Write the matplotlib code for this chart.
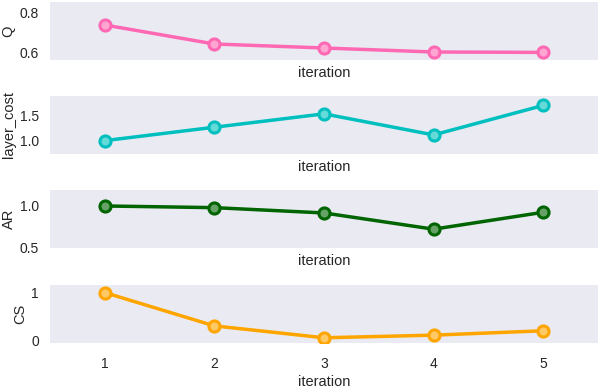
import matplotlib
matplotlib.use("Agg")
import matplotlib.pyplot as plt
import matplotlib.colors as mcolors

iterations = ["1", "2", "3", "4", "5"]
q_values = [0.735, 0.640, 0.620, 0.600, 0.598]
layer_cost_values = [1.00, 1.27, 1.54, 1.115, 1.71]
ar_values = [1.00, 0.98, 0.917, 0.724, 0.925]
cs_values = [1.00, 0.30, 0.05, 0.105, 0.197]

panels = [
    ("Q", q_values, "#FF69B4", (0.56, 0.85), [0.6, 0.8], ["0.6", "0.8"]),
    ("layer_cost", layer_cost_values, "#00BFBF", (0.73, 1.90), [1.0, 1.5], ["1.0", "1.5"]),
    ("AR", ar_values, "#006400", (0.52, 1.19), [0.5, 1.0], ["0.5", "1.0"]),
    ("CS", cs_values, "#FFA500", (-0.06, 1.16), [0, 1], ["0", "1"]),
]

plt.rcParams['font.family'] = ['Liberation Sans', 'DejaVu Sans']
W, H = 598, 388
fig = plt.figure(figsize=(W / 100, H / 100), dpi=100)

tops = [2, 96, 190, 285]
ax_h = 58
left, right = 50, 598
for i, (name, vals, col, ylim, ticks, tlabels) in enumerate(panels):
    top = tops[i]
    ax = fig.add_axes([left / W, 1 - (top + ax_h) / H, (right - left) / W, ax_h / H])
    ax.set_facecolor("#EAEAF2")
    for s in ax.spines.values():
        s.set_visible(False)
    x = list(range(len(iterations)))
    face = mcolors.to_rgba(col)
    light = tuple(0.6 * c + 0.4 for c in face[:3])
    ax.plot(x, vals, color=col, lw=2.5, marker="o", markersize=8,
            markerfacecolor=light, markeredgecolor=col, markeredgewidth=2.2)
    ax.set_xlim(-0.5, 4.5)
    ax.set_ylim(*ylim)
    ax.set_yticks(ticks)
    ax.set_yticklabels(tlabels)
    ax.set_xticks(x)
    ax.set_xticklabels(iterations)
    ax.tick_params(axis="y", length=0, labelsize=10, colors="#262626", pad=8)
    ax.tick_params(axis="x", length=0, labelsize=10, colors="#262626", pad=10)
    if i < 3:
        ax.tick_params(axis="x", labelbottom=False)
        ax.set_xlabel("iteration", fontsize=10.5, color="#262626", labelpad=4)
    else:
        ax.set_xlabel("iteration", fontsize=10.5, color="#262626", labelpad=3)
    ax.set_ylabel(name, fontsize=10.5, color="#262626", labelpad=3)
    ax.grid(False)

fig.savefig("out.png", dpi=100)
